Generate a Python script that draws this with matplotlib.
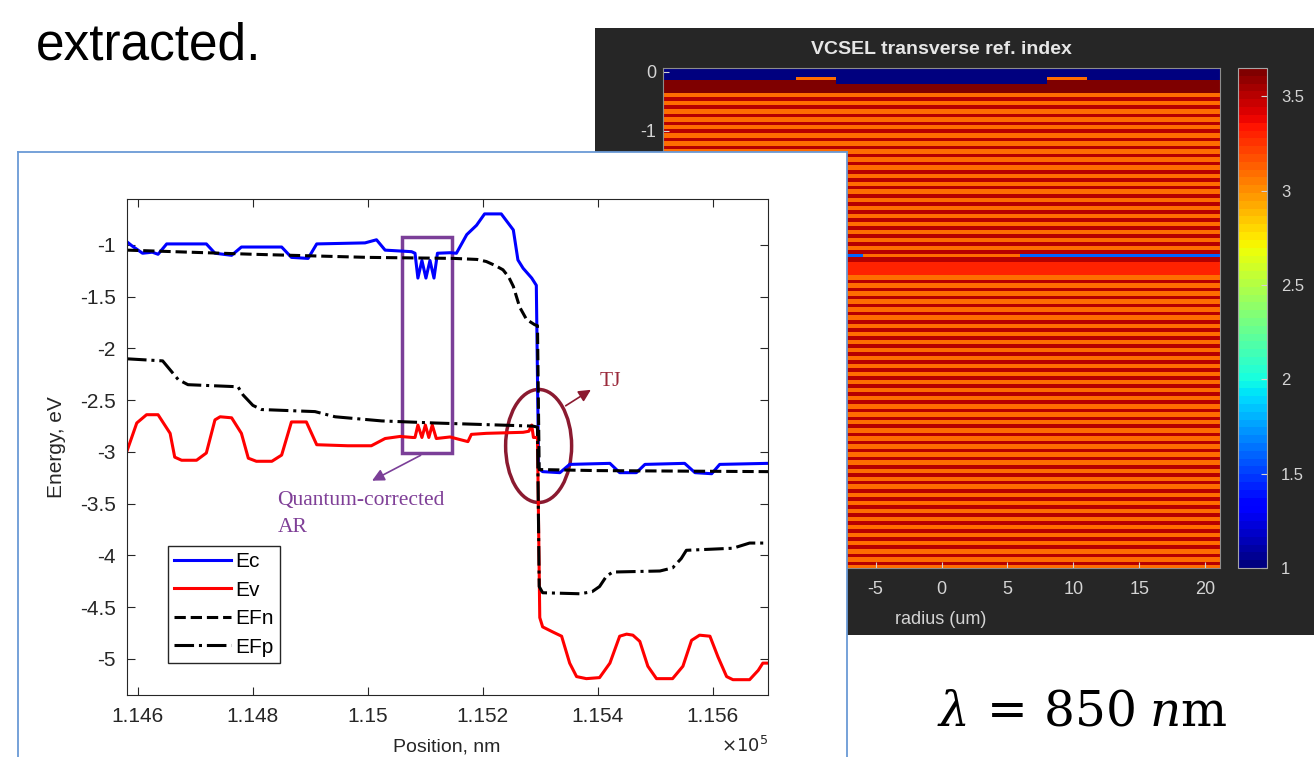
import numpy as np
import matplotlib.pyplot as plt
from matplotlib.patches import Rectangle, Ellipse

plt.rcParams['font.family'] = ['Liberation Sans', 'DejaVu Sans']
plt.rcParams['axes.unicode_minus'] = False

W, H = 1314, 757

# ---- band diagram (position in nm, energy in eV) ----
ec_x = [114581, 114590, 114608, 114625, 114635, 114650, 114719, 114734, 114763, 114780,
        114850, 114867, 114896, 114911, 114995, 115015, 115030, 115076, 115082, 115087,
        115094, 115101, 115108, 115115, 115121, 115143, 115154, 115172, 115189, 115203,
        115232, 115253, 115261, 115270, 115285, 115293, 115297, 115304, 115334, 115351,
        115421, 115438, 115467, 115482, 115551, 115569, 115598, 115612, 115696]
ec_y = [-0.97, -1.01, -1.08, -1.07, -1.09, -0.99, -0.99, -1.08, -1.10, -1.02,
        -1.02, -1.12, -1.13, -0.99, -0.98, -0.95, -1.05, -1.065, -1.08, -1.32,
        -1.15, -1.32, -1.15, -1.32, -1.08, -1.075, -1.08, -0.90, -0.81, -0.70,
        -0.70, -0.855, -1.145, -1.225, -1.32, -1.39, -3.16, -3.19, -3.20, -3.12,
        -3.11, -3.20, -3.20, -3.12, -3.11, -3.20, -3.21, -3.12, -3.11]

ev_x = [114581, 114598, 114615, 114635, 114656, 114664, 114676, 114702, 114719, 114734,
        114743, 114763, 114780, 114792, 114806, 114833, 114850, 114867, 114893, 114911,
        114965, 115006, 115030, 115056, 115078, 115082, 115087, 115094, 115100, 115106,
        115112, 115119, 115143, 115160, 115174, 115180, 115206, 115270, 115280, 115285,
        115288, 115295, 115299, 115304, 115322, 115337, 115351, 115363, 115380, 115403,
        115421, 115438, 115450, 115461, 115473, 115487, 115502, 115530, 115548, 115563,
        115577, 115595, 115609, 115624, 115635, 115664, 115679, 115687, 115696]
ev_y = [-2.99, -2.72, -2.64, -2.64, -2.82, -3.05, -3.08, -3.08, -3.01, -2.69,
        -2.66, -2.67, -2.82, -3.06, -3.09, -3.09, -3.03, -2.71, -2.71, -2.93,
        -2.94, -2.94, -2.87, -2.85, -2.86, -2.86, -2.74, -2.86, -2.74, -2.86,
        -2.74, -2.87, -2.855, -2.88, -2.90, -2.83, -2.82, -2.81, -2.80, -2.74,
        -2.86, -2.86, -4.60, -4.69, -4.74, -4.78, -5.04, -5.17, -5.19, -5.18,
        -5.04, -4.78, -4.76, -4.77, -4.83, -5.07, -5.19, -5.19, -5.07, -4.82,
        -4.77, -4.78, -4.98, -5.17, -5.20, -5.20, -5.11, -5.04, -5.04]

efn_x = [114581, 114800, 115000, 115150, 115190, 115206, 115222, 115235, 115245,
         115253, 115264, 115276, 115290, 115295, 115298, 115400, 115696]
efn_y = [-1.05, -1.09, -1.12, -1.13, -1.14, -1.16, -1.20, -1.24, -1.31,
         -1.40, -1.60, -1.72, -1.77, -1.78, -3.17, -3.18, -3.19]

efp_x = [114581, 114643, 114655, 114670, 114687, 114774, 114783, 114800, 114815, 114908,
         114943, 115024, 115116, 115287, 115295, 115298, 115304, 115369, 115390, 115403,
         115415, 115426, 115508, 115530, 115545, 115554, 115635, 115664, 115696]
efp_y = [-2.10, -2.12, -2.20, -2.30, -2.35, -2.37, -2.45, -2.55, -2.59, -2.61,
         -2.66, -2.70, -2.72, -2.75, -2.76, -4.30, -4.36, -4.37, -4.35, -4.30,
         -4.20, -4.16, -4.15, -4.12, -4.03, -3.95, -3.93, -3.88, -3.88]

band_xticks = [114600, 114800, 115000, 115200, 115400, 115600]
band_xlabels = ['1.146', '1.148', '1.15', '1.152', '1.154', '1.156']
band_yticks = [-5, -4.5, -4, -3.5, -3, -2.5, -2, -1.5, -1]
band_ylabels = ['-5', '-4.5', '-4', '-3.5', '-3', '-2.5', '-2', '-1.5', '-1']

# ---- VCSEL refractive index stack (depth in um, radius in um) ----
n_air, n_cap, n_contact = 1.0, 3.63, 3.1
n_hi, n_lo, n_oxide, n_cavity = 3.52, 3.08, 1.6, 3.3
pair_um = 0.1365
top_dbr = (-0.36, -3.09)
oxide = (-3.09, -3.14)
spacer = (-3.14, -3.23)
cavity = (-3.23, -3.45)
aperture_r = 6.0
contact_r = (8.0, 11.0)


def box(x0, y0, x1, y1):
    return [x0 / W, 1 - y1 / H, (x1 - x0) / W, (y1 - y0) / H]


r = np.linspace(-21.1, 21.1, 845)
z = np.linspace(0.06, -8.41, 1700)
R, Z = np.meshgrid(r, z)
aR = np.abs(R)
idx = np.full(R.shape, n_hi)
phase_top = ((top_dbr[0] - Z) % pair_um) / pair_um
phase_bot = ((cavity[1] - Z) % pair_um) / pair_um
dbr_top = (Z <= top_dbr[0]) & (Z > top_dbr[1])
dbr_bot = Z <= cavity[1]
idx[dbr_top] = np.where(phase_top[dbr_top] < 0.55, n_lo, n_hi)
idx[dbr_bot] = np.where(phase_bot[dbr_bot] < 0.55, n_lo, n_hi)
idx[(Z <= oxide[0]) & (Z > oxide[1])] = n_oxide
idx[(Z <= oxide[0]) & (Z > oxide[1]) & (aR < aperture_r)] = n_lo
idx[(Z <= spacer[0]) & (Z > spacer[1])] = n_hi
idx[(Z <= cavity[0]) & (Z > cavity[1])] = n_cavity
idx[(Z <= -0.14) & (Z > top_dbr[0])] = n_cap
idx[Z > -0.14] = n_air
idx[(Z <= -0.14) & (Z > -0.214) & (aR < contact_r[0])] = n_air
idx[(Z <= -0.085) & (Z > -0.14) & (aR >= contact_r[0]) & (aR <= contact_r[1])] = n_contact

fig = plt.figure(figsize=(W / 100, H / 100), dpi=100)
fig.patch.set_facecolor('white')

light = '#d4d4d4'

# dark panel
ax_dark = fig.add_axes(box(595, 28, 1316, 635), zorder=0)
ax_dark.set_facecolor('#262626')
ax_dark.set_xticks([])
ax_dark.set_yticks([])
for s in ax_dark.spines.values():
    s.set_visible(False)

ax_hm = fig.add_axes(box(663, 68, 1220, 568), zorder=1)
im = ax_hm.imshow(idx, extent=[-21.1, 21.1, -8.41, 0.06], cmap=plt.get_cmap('jet', 64),
                  vmin=1, vmax=3.65, aspect='auto', interpolation='nearest')
ax_hm.set_xticks([-20, -15, -10, -5, 0, 5, 10, 15, 20])
ax_hm.set_yticks([0, -1, -2, -3, -4, -5, -6, -7, -8])
ax_hm.tick_params(direction='in', colors=light, labelsize=13, length=4)
ax_hm.tick_params(axis='x', pad=9)
ax_hm.tick_params(axis='y', pad=5)
for s in ax_hm.spines.values():
    s.set_color('#8c8c8c')
fig.text(941 / W, 1 - 619 / H, 'radius (um)', color=light, fontsize=13,
         ha='center', va='center')
fig.text(941 / W, 1 - 50 / H, 'VCSEL transverse ref. index', color='#e6e6e6',
         fontsize=14, fontweight='bold', ha='center', va='center')

cax = fig.add_axes(box(1238, 68, 1267, 568), zorder=1)
cb = fig.colorbar(im, cax=cax)
cb.set_ticks([1, 1.5, 2, 2.5, 3, 3.5])
cb.set_ticklabels(['1', '1.5', '2', '2.5', '3', '3.5'])
cb.outline.set_edgecolor('#a6a6a6')
cax.tick_params(direction='in', colors=light, labelsize=12, length=4, pad=10)

# white panel
ax_white = fig.add_axes(box(18, 152, 847, 760), zorder=2)
ax_white.set_facecolor('white')
ax_white.set_xticks([])
ax_white.set_yticks([])
for s in ax_white.spines.values():
    s.set_color('#6a9ad6')
    s.set_linewidth(1.3)

ax = fig.add_axes(box(127, 199, 768, 695), zorder=3)
ax.plot(ec_x, ec_y, color='#0000ff', lw=2.2, label='Ec')
ax.plot(ev_x, ev_y, color='#ff0000', lw=2.2, label='Ev')
ax.plot(efn_x, efn_y, color='black', lw=2.2, ls='--', label='EFn')
ax.plot(efp_x, efp_y, color='black', lw=2.2, ls='-.', label='EFp')
ax.set_xlim(114581, 115696)
ax.set_ylim(-5.348, -0.556)
ax.set_xticks(band_xticks)
ax.set_xticklabels(band_xlabels)
ax.set_yticks(band_yticks)
ax.set_yticklabels(band_ylabels)
ax.tick_params(direction='in', top=True, right=True, length=6, colors='#262626',
               labelsize=15)
ax.tick_params(axis='x', pad=9)
ax.tick_params(axis='y', pad=8)
for s in ax.spines.values():
    s.set_color('#262626')

leg = ax.legend(loc='lower left', bbox_to_anchor=(0.064, 0.065), borderaxespad=0,
                fontsize=15, fancybox=False, edgecolor='#262626', framealpha=1,
                handlelength=2.7, handletextpad=0.25, labelspacing=0.45, borderpad=0.3)
leg.get_frame().set_linewidth(1.0)

purple = '#7b3f98'
ax.add_patch(Rectangle((115059, -3.007), 115146 - 115059, 3.007 - 0.92, fill=False,
                       edgecolor=purple, lw=2.5))
ax.annotate('', xy=(115003, -3.29), xytext=(115096, -3.02),
            arrowprops=dict(arrowstyle='-|>', color=purple, lw=1.2, mutation_scale=18))
ax.text(114843, -3.512, 'Quantum-corrected', color='#7f3f97', fontsize=15.5,
        family='Liberation Serif', va='baseline')
ax.text(114843, -3.77, 'AR', color='#7f3f97', fontsize=15.5,
        family='Liberation Serif', va='baseline')

maroon = '#8b1a30'
ax.add_patch(Ellipse((115297, -2.942), 114.8, 1.092, fill=False, edgecolor=maroon, lw=2.5))
ax.annotate('', xy=(115392, -2.385), xytext=(115340, -2.568),
            arrowprops=dict(arrowstyle='-|>', color=maroon, lw=1.2, mutation_scale=18))
ax.text(115403, -2.362, 'TJ', color='#9b2a3b', fontsize=15.5,
        family='Liberation Serif', va='baseline')

fig.text(56 / W, 1 - 447 / H, 'Energy, eV', rotation=90, ha='center', va='center',
         fontsize=15, color='#262626', zorder=5)
fig.text(447 / W, 1 - 751 / H, 'Position, nm', ha='center', va='baseline',
         fontsize=14, color='#262626', zorder=5)
fig.text(768 / W, 1 - 752 / H, r'$\times10^5$', ha='right', va='baseline',
         fontsize=13, color='#262626', zorder=5, math_fontfamily='dejavusans')

fig.text(36 / W, 1 - 59 / H, 'extracted.', fontsize=37, va='baseline',
         family=['Liberation Sans Narrow', 'Liberation Sans'], zorder=5)
fig.text(937 / W, 1 - 725 / H, r'$\lambda\,=\,850\;n$m', fontsize=35, va='baseline',
         family='DejaVu Serif', math_fontfamily='dejavuserif', zorder=5)

fig.savefig('out.png', dpi=100)
